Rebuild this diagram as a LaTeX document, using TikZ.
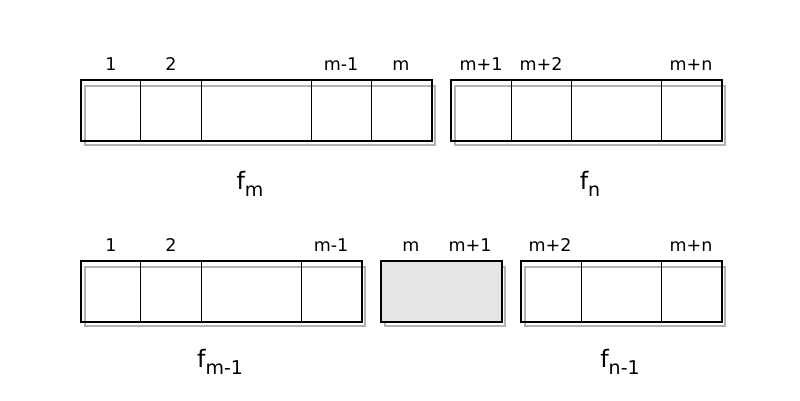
\documentclass[tikz,border=0pt]{standalone}
\usepackage{fontspec}
\setmainfont{DejaVu Sans}
\newcommand{\fidx}[1]{f\raisebox{-7pt}{\fontsize{19}{21}\selectfont #1}}
\begin{document}
\begin{tikzpicture}[x=1pt,y=-1pt,
    idx/.style={font=\fontsize{17.5}{19}\selectfont,anchor=base},
    fname/.style={font=\fontsize{24}{26}\selectfont,anchor=base},
    shade/.style={draw=black!30,line width=2.2pt},
    frame/.style={draw=black,line width=1.8pt},
    cell/.style={draw=black,line width=0.9pt}]
    \useasboundingbox (0,0) rectangle (800,400);
    % top row: f_m and f_n
    \path[shade] (85,86) rectangle (435,145);
    \path[frame] (81,80) rectangle (432,141);
    \foreach \x in {140,201,311,371} \draw[cell] (\x,80) -- (\x,141);
    \path[shade] (455,86) rectangle (725,145);
    \path[frame] (451,80) rectangle (722,141);
    \foreach \x in {511,571,661} \draw[cell] (\x,80) -- (\x,141);
    \node[idx] (a1) at (111,70) {1};
    \node[idx] (a2) at (171,70) {2};
    \node[idx] (am1) at (341,70) {m-1};
    \node[idx] (am) at (401,70) {m};
    \node[idx] (bm1) at (481,70) {m+1};
    \node[idx] (bm2) at (541,70) {m+2};
    \node[idx] (bmn) at (691,70) {m+n};
    \node[fname] (fm) at (250,189) {\fidx{m}};
    \node[fname] (fn) at (590,189) {\fidx{n}};
    % bottom row: f_{m-1}, moved pair, f_{n-1}
    \path[shade] (85,267) rectangle (365,326);
    \path[frame] (81,261) rectangle (362,322);
    \foreach \x in {140,201,301} \draw[cell] (\x,261) -- (\x,322);
    \path[shade] (385,267) rectangle (505,326);
    \path[frame,fill=black!10] (381,261) rectangle (502,322);
    \path[shade] (525,267) rectangle (725,326);
    \path[frame] (521,261) rectangle (722,322);
    \foreach \x in {581,661} \draw[cell] (\x,261) -- (\x,322);
    \node[idx] (c1) at (111,251) {1};
    \node[idx] (c2) at (171,251) {2};
    \node[idx] (cm1) at (331,251) {m-1};
    \node[idx] (dm) at (411,251) {m};
    \node[idx] (dm1) at (470,251) {m+1};
    \node[idx] (em2) at (550,251) {m+2};
    \node[idx] (emn) at (691,251) {m+n};
    \node[fname] (fm1) at (220,367) {\fidx{m-1}};
    \node[fname] (fn1) at (620,367) {\fidx{n-1}};
\end{tikzpicture}
\end{document}
